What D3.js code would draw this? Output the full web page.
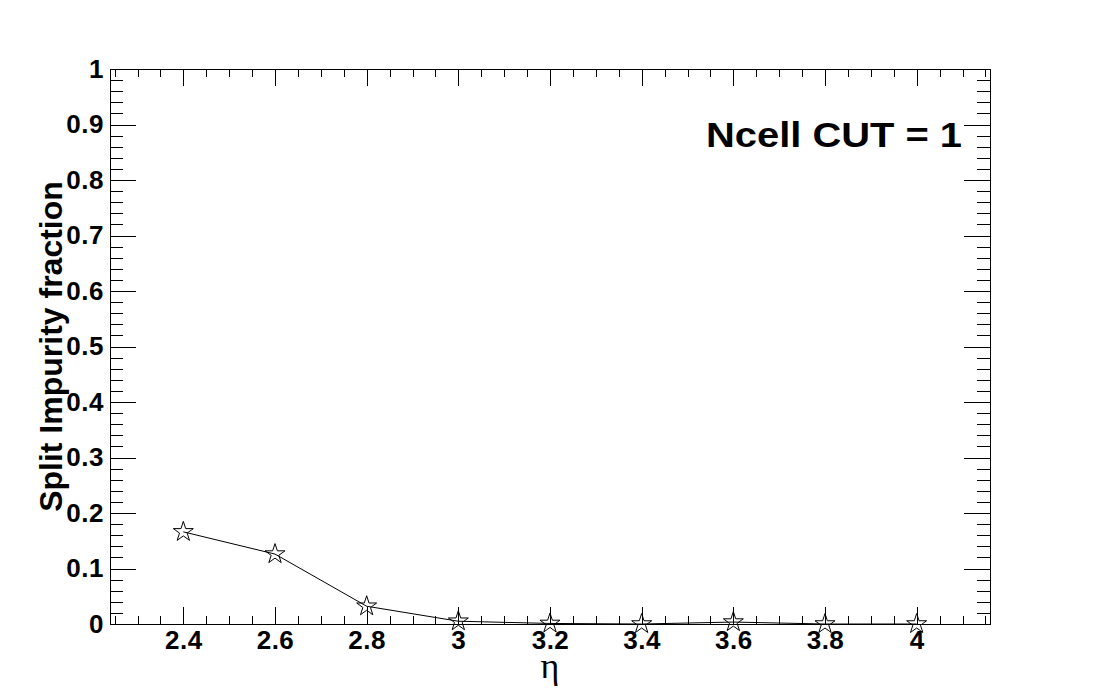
<!DOCTYPE html>
<html lang="en">
<head>
<meta charset="utf-8">
<title>Split impurity fraction vs eta</title>
<script type="text/javascript" src="https://cdn.jsdelivr.net/npm/d3@7"></script>
<style>
    body {
        margin: 0;
        background: white;
    }
    .axis path {
        display: none;
    }
    .axis line {
        stroke: black;
        stroke-width: 1;
        shape-rendering: crispEdges;
    }
    .axis text {
        font-family: "Liberation Sans", Arial, sans-serif;
        font-weight: bold;
        font-size: 26px;
        letter-spacing: 0.5px;
        fill: black;
    }
    .frame {
        fill: none;
        stroke: black;
        stroke-width: 1;
        shape-rendering: crispEdges;
    }
    .graph_line {
        fill: none;
        stroke: black;
        stroke-width: 1;
    }
    .marker {
        fill: none;
        stroke: black;
        stroke-width: 1;
    }
</style>
</head>
<body>
<div id="graph"></div>
<script type="text/javascript">

// values
var eta = [2.4, 2.6, 2.8, 3.0, 3.2, 3.4, 3.6, 3.8, 4.0];
var impurity = [0.166, 0.126, 0.032, 0.005, 0.001, 0, 0.0035, 0, 0];

var xTicks = [2.4, 2.6, 2.8, 3.0, 3.2, 3.4, 3.6, 3.8, 4.0];
var xTickLabels = ["2.4", "2.6", "2.8", "3", "3.2", "3.4", "3.6", "3.8", "4"];
var yTicks = [0, 0.1, 0.2, 0.3, 0.4, 0.5, 0.6, 0.7, 0.8, 0.9, 1];
var yTickLabels = ["0", "0.1", "0.2", "0.3", "0.4", "0.5", "0.6", "0.7", "0.8", "0.9", "1"];

var margin = {top: 69, right: 111, bottom: 70, left: 110},
    width = 1101 - margin.left - margin.right,
    height = 694 - margin.top - margin.bottom;

var svg = d3.select("#graph").append("svg")
    .attr("width", 1101)
    .attr("height", 694)
    .append("g")
    .attr("transform", "translate(" + margin.left + "," + margin.top + ")");

var x_scale = d3.scaleLinear()
    .domain([2.24, 4.16])
    .range([0, width]);

var y_scale = d3.scaleLinear()
    .domain([0, 1])
    .range([height, 0]);

// minor tick positions
var xMinor = d3.range(2.25, 4.16, 0.05);
var yMinor = d3.range(0, 1.001, 0.02);

var xMajorLen = height * 0.03,
    yMajorLen = width * 0.03;

// bottom axis
svg.append("g")
    .attr("class", "axis")
    .attr("transform", "translate(0," + height + ")")
    .call(d3.axisBottom(x_scale).tickValues(xMinor).tickSize(-xMajorLen / 2).tickFormat(""));

svg.append("g")
    .attr("class", "axis")
    .attr("transform", "translate(0," + height + ")")
    .call(d3.axisBottom(x_scale)
        .tickValues(xTicks)
        .tickSize(-xMajorLen)
        .tickPadding(7)
        .tickFormat(function (d, i) { return xTickLabels[i]; }));

// top axis, ticks only
svg.append("g")
    .attr("class", "axis")
    .call(d3.axisTop(x_scale).tickValues(xMinor).tickSize(-xMajorLen / 2).tickFormat(""));
svg.append("g")
    .attr("class", "axis")
    .call(d3.axisTop(x_scale).tickValues(xTicks).tickSize(-xMajorLen).tickFormat(""));

// left axis
svg.append("g")
    .attr("class", "axis")
    .call(d3.axisLeft(y_scale).tickValues(yMinor).tickSize(-yMajorLen / 2).tickFormat(""));

svg.append("g")
    .attr("class", "axis")
    .call(d3.axisLeft(y_scale)
        .tickValues(yTicks)
        .tickSize(-yMajorLen)
        .tickPadding(6)
        .tickFormat(function (d, i) { return yTickLabels[i]; }));

// right axis, ticks only
svg.append("g")
    .attr("class", "axis")
    .attr("transform", "translate(" + width + ",0)")
    .call(d3.axisRight(y_scale).tickValues(yMinor).tickSize(-yMajorLen / 2).tickFormat(""));
svg.append("g")
    .attr("class", "axis")
    .attr("transform", "translate(" + width + ",0)")
    .call(d3.axisRight(y_scale).tickValues(yTicks).tickSize(-yMajorLen).tickFormat(""));

svg.append("rect")
    .attr("class", "frame")
    .attr("x", 0)
    .attr("y", 0)
    .attr("width", width)
    .attr("height", height);

var points = eta.map(function (d, i) { return [d, impurity[i]]; });

var graph_line = d3.line()
    .x(function (d) { return x_scale(d[0]); })
    .y(function (d) { return y_scale(d[1]); });

svg.append("path")
    .datum(points)
    .attr("class", "graph_line")
    .attr("d", graph_line);

// open star markers
var starR = 10.5;
var star = d3.range(10).map(function (k) {
    var r = k % 2 === 0 ? starR : starR * 0.382;
    return [k * Math.PI / 5, r];
});
var starPath = d3.lineRadial().curve(d3.curveLinearClosed)(star);

svg.selectAll(".marker")
    .data(points)
    .enter()
    .append("path")
    .attr("class", "marker")
    .attr("transform", function (d) {
        return "translate(" + x_scale(d[0]) + "," + y_scale(d[1]) + ")";
    })
    .attr("d", starPath);

// axis titles
svg.append("text")
    .attr("transform", "translate(" + (62 - margin.left) + "," + (height / 2) + ") rotate(-90)")
    .attr("text-anchor", "middle")
    .style("font-family", "'Liberation Sans', Arial, sans-serif")
    .style("font-weight", "bold")
    .style("font-size", "32px")
    .text("Split Impurity fraction");

svg.append("text")
    .attr("x", width / 2)
    .attr("y", 678 - margin.top)
    .attr("text-anchor", "middle")
    .style("font-family", "'Liberation Serif', 'DejaVu Serif', serif")
    .style("font-size", "36px")
    .text("η");

// label in the corner
svg.append("text")
    .attr("x", 706 - margin.left)
    .attr("y", 147 - margin.top)
    .attr("textLength", 256)
    .attr("lengthAdjust", "spacingAndGlyphs")
    .style("font-family", "'Liberation Sans', Arial, sans-serif")
    .style("font-weight", "bold")
    .style("font-size", "35px")
    .text("Ncell CUT = 1");

</script>
</body>
</html>
